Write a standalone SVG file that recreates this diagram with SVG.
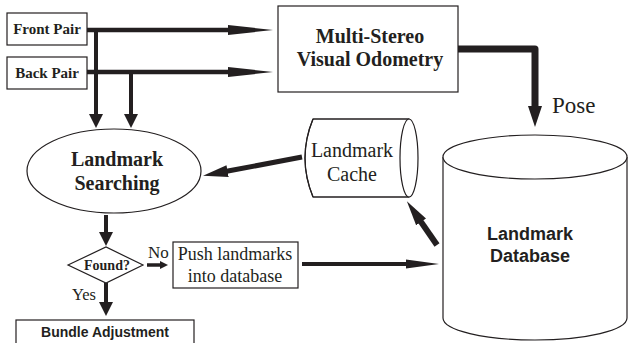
<svg xmlns="http://www.w3.org/2000/svg" width="628" height="343" viewBox="0 0 628 343">
<style>
.box{fill:#fff;stroke:#231f20;stroke-width:1.2}
.ln{fill:none;stroke:#231f20}
.sb{font-family:"Liberation Serif",serif;font-weight:bold;fill:#231f20;text-anchor:middle}
.sr{font-family:"Liberation Serif",serif;fill:#231f20;text-anchor:middle}
.ss{font-family:"Liberation Sans",sans-serif;font-weight:bold;fill:#231f20;text-anchor:middle}
</style>
<defs>
<marker id="hLong" markerUnits="userSpaceOnUse" viewBox="0 -6 46 12" refX="1" refY="0" markerWidth="46" markerHeight="12" orient="auto"><path d="M0,-5 L45,0 L0,5 z" fill="#231f20"/></marker>
<marker id="hMid" markerUnits="userSpaceOnUse" viewBox="0 -6 34 12" refX="1" refY="0" markerWidth="34" markerHeight="12" orient="auto"><path d="M0,-4.5 L33,0 L0,4.5 z" fill="#231f20"/></marker>
<marker id="hShort" markerUnits="userSpaceOnUse" viewBox="0 -8 16 16" refX="1" refY="0" markerWidth="16" markerHeight="16" orient="auto"><path d="M0,-7 L14,0 L0,7 z" fill="#231f20"/></marker>
<marker id="hPose" markerUnits="userSpaceOnUse" viewBox="0 -8 23 16" refX="1" refY="0" markerWidth="23" markerHeight="16" orient="auto"><path d="M0,-7 L21,0 L0,7 z" fill="#231f20"/></marker>
<marker id="hDiag" markerUnits="userSpaceOnUse" viewBox="0 -7 26 14" refX="1" refY="0" markerWidth="26" markerHeight="14" orient="auto"><path d="M0,-6 L25,0 L0,6 z" fill="#231f20"/></marker>
<marker id="hSmall" markerUnits="userSpaceOnUse" viewBox="0 -5 10 10" refX="1" refY="0" markerWidth="10" markerHeight="10" orient="auto"><path d="M0,-4 L8,0 L0,4 z" fill="#231f20"/></marker>
</defs>

<g id="connectors">
<path class="ln" stroke-width="4.5" d="M87,30 H229" marker-end="url(#hLong)"/>
<path class="ln" stroke-width="4.5" d="M87,72 H229" marker-end="url(#hLong)"/>
<path class="ln" stroke-width="4" d="M96,30 V115" marker-end="url(#hShort)"/>
<path class="ln" stroke-width="4" d="M131,72 V115" marker-end="url(#hShort)"/>
<path class="ln" stroke-width="7" stroke-linejoin="round" d="M458,49 H535 V107" marker-end="url(#hPose)"/>
<path class="ln" stroke-width="5" d="M302,157 L226.6,171.3" marker-end="url(#hDiag)"/>
<path class="ln" stroke-width="4" d="M106,215 V233" marker-end="url(#hShort)"/>
<path class="ln" stroke-width="3.5" d="M147,265 H161" marker-end="url(#hSmall)"/>
<path class="ln" stroke-width="4" d="M302,264 H407" marker-end="url(#hMid)"/>
<path class="ln" stroke-width="6" d="M437,245 L420.5,221.1" marker-end="url(#hDiag)"/>
<path class="ln" stroke-width="4" d="M106,283 V303" marker-end="url(#hShort)"/>
</g>

<g id="front-pair">
<rect class="box" x="7" y="13" width="80" height="32"/>
<text class="sb" x="47" y="34" font-size="15">Front Pair</text>
</g>
<g id="back-pair">
<rect class="box" x="7" y="57" width="80" height="32"/>
<text class="sb" x="47" y="78" font-size="15">Back Pair</text>
</g>
<g id="msvo">
<rect class="box" x="278" y="6" width="180" height="86"/>
<text class="sb" x="370" y="43" font-size="20">Multi-Stereo</text>
<text class="sb" x="370" y="66" font-size="20">Visual Odometry</text>
</g>
<g id="pose-label">
<text class="sr" x="552" y="113" font-size="23" text-anchor="start" style="text-anchor:start">Pose</text>
</g>
<g id="landmark-searching">
<ellipse class="box" cx="114" cy="171" rx="87" ry="42"/>
<text class="sb" x="117" y="166" font-size="20">Landmark</text>
<text class="sb" x="117" y="190" font-size="20">Searching</text>
</g>
<g id="landmark-cache">
<path class="box" d="M313,119 H409 V197 H313 Q297,158 313,119 z" stroke="none"/>
<path class="ln" stroke-width="1.2" d="M313,119 H409 M313,197 H409 M313,119 Q297,158 313,197"/>
<ellipse class="box" cx="409" cy="158" rx="9" ry="39"/>
<text class="sr" x="352" y="157" font-size="20">Landmark</text>
<text class="sr" x="352" y="181" font-size="20">Cache</text>
</g>
<g id="landmark-database">
<path class="box" d="M443,157 V318 A92,22 0 0 0 627,318 V157"/>
<ellipse class="box" cx="535" cy="157" rx="92" ry="22"/>
<text class="ss" x="530" y="240" font-size="18">Landmark</text>
<text class="ss" x="530" y="262" font-size="18">Database</text>
</g>
<g id="found">
<polygon class="box" points="68,265 106,247 143,265 106,283"/>
<text class="sb" x="107" y="270" font-size="14">Found?</text>
</g>
<g id="no-label">
<text class="sr" x="148" y="258" font-size="17" style="text-anchor:start">No</text>
</g>
<g id="yes-label">
<text class="sr" x="72" y="300" font-size="16.5" style="text-anchor:start">Yes</text>
</g>
<g id="push-landmarks">
<rect class="box" x="173" y="242" width="125" height="46"/>
<text class="sr" x="235" y="260" font-size="18">Push landmarks</text>
<text class="sr" x="235" y="282" font-size="18">into database</text>
</g>
<g id="bundle-adjustment">
<rect class="box" x="16" y="320" width="178" height="30"/>
<text class="ss" x="105" y="337" font-size="14">Bundle Adjustment</text>
</g>
</svg>
